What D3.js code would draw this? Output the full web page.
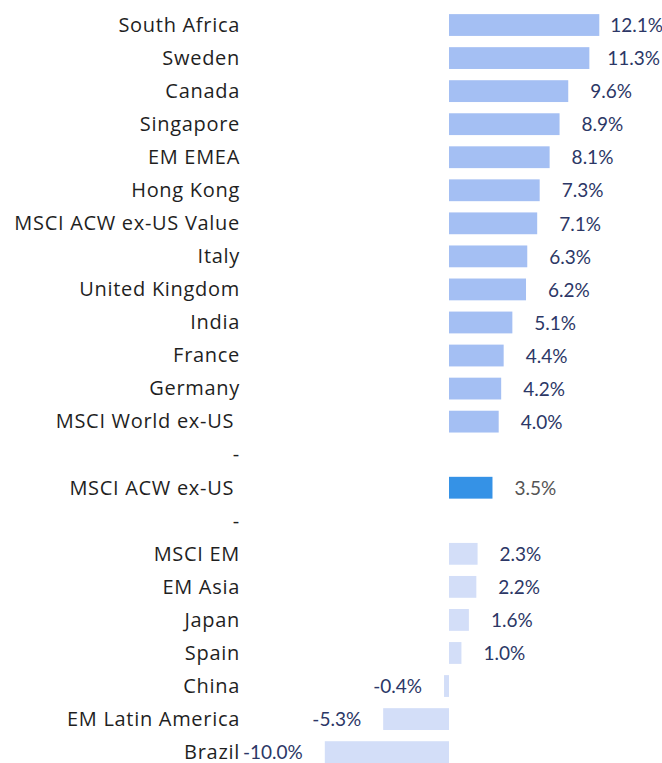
<!DOCTYPE html>
<html>
<head>
<meta charset="utf-8">
<script src="https://cdn.jsdelivr.net/npm/d3@7"></script>
<style>
  body { margin: 0; background: #fff; }
  text { font-family: Lato, 'Noto Sans', sans-serif; }
</style>
</head>
<body>
<div id="app"></div>
<script>
'use strict'
const categories = [
  'South Africa', 'Sweden', 'Canada', 'Singapore', 'EM EMEA', 'Hong Kong',
  'MSCI ACW ex-US Value', 'Italy', 'United Kingdom', 'India', 'France', 'Germany',
  'MSCI World ex-US ', '-', 'MSCI ACW ex-US ', '-', 'MSCI EM', 'EM Asia',
  'Japan', 'Spain', 'China', 'EM Latin America', 'Brazil'
]
const values = [
  12.1, 11.3, 9.6, 8.9, 8.1, 7.3,
  7.1, 6.3, 6.2, 5.1, 4.4, 4.2,
  4.0, null, 3.5, null, 2.3, 2.2,
  1.6, 1.0, -0.4, -5.3, -10.0
]
// group: 0 = upper group, 1 = benchmark, 2 = lower group
const groups = [
  0, 0, 0, 0, 0, 0,
  0, 0, 0, 0, 0, 0,
  0, null, 1, null, 2, 2,
  2, 2, 2, 2, 2
]

const width = 662
const height = 763
const colors = ['#a4bff3', '#3592e6', '#d3def8']
const valueColors = ['#2c3766', '#555555', '#2c3766']

const rows = categories.map((c, i) => ({ i, name: c, value: values[i], group: groups[i] }))

const svg = d3.select('#app').append('svg')
  .attr('width', width)
  .attr('height', height)

const x = d3.scaleLinear()
  .domain([-10, 12.1])
  .range([324.8, 599.3])

const y = d3.scaleBand()
  .domain(rows.map(d => d.i))
  .range([8.5, 8.5 + 23 * 33.05])
  .paddingInner(0.34)
  .paddingOuter(0.17)

// category labels
svg.append('g')
  .attr('transform', 'translate(240, 0)')
  .call(d3.axisLeft(y).tickSize(0).tickPadding(0).tickFormat(i => categories[i]))
  .call(g => g.select('.domain').remove())
  .selectAll('text')
  .attr('dy', '0.34em')
  .style('font-family', "'Open Sans', sans-serif")
  .style('font-size', '20px')
  .style('letter-spacing', '0.7px')
  .style('fill', '#1f1f1f')
  .style('white-space', 'pre')
  .attr('xml:space', 'preserve')

const data = rows.filter(d => d.value !== null)

svg.append('g').selectAll('rect')
  .data(data)
  .enter()
  .append('rect')
  .attr('x', d => x(Math.min(0, d.value)))
  .attr('width', d => Math.abs(x(d.value) - x(0)))
  .attr('y', d => y(d.i))
  .attr('height', y.bandwidth())
  .attr('fill', d => colors[d.group])

// value labels, pulled back toward the bar when they would overflow
const labels = svg.append('g').selectAll('text')
  .data(data)
  .enter()
  .append('text')
  .attr('x', d => d.value >= 0 ? x(d.value) + 22 : x(d.value) - 22)
  .attr('y', d => y(d.i) + y.bandwidth() / 2)
  .attr('dy', '0.38em')
  .attr('text-anchor', d => d.value >= 0 ? 'start' : 'end')
  .style('font-size', '19px')
  .style('fill', d => valueColors[d.group])
  .text(d => d.value.toFixed(1) + '%')

labels.each(function (d) {
  if (d.value < 0) return
  const w = this.getComputedTextLength()
  const x0 = +this.getAttribute('x')
  if (x0 + w > width - 2) d3.select(this).attr('x', Math.max(x(d.value) + 11, width - 2 - w))
})
</script>
</body>
</html>
